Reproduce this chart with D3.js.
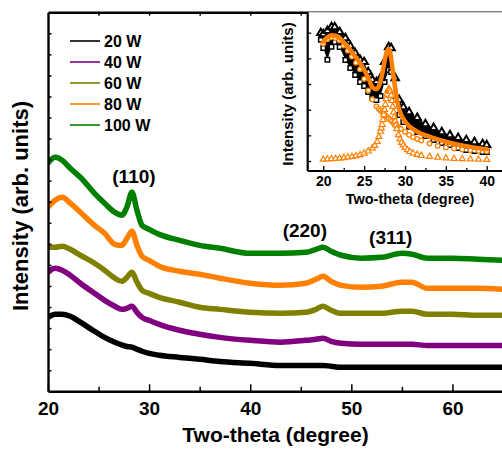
<!DOCTYPE html>
<html>
<head>
<meta charset="utf-8">
<script src="https://cdn.jsdelivr.net/npm/d3@7"></script>
<style>
html, body { margin: 0; padding: 0; background: #fff; }
svg { display: block; font-family: "Liberation Sans", Arial, sans-serif; font-weight: bold; }
</style>
</head>
<body>
<svg id="chart" width="502" height="450"></svg>
<script>
// --- main XRD patterns (arb. units, offset stacked) ---
const twoTheta = [20, 20.7, 21.4, 22.2, 23.2, 24.6, 25.6, 26.6, 27.3, 27.8, 28.3, 28.8, 29.3, 30, 31, 33, 35, 37, 40, 43, 45.5, 46.5, 47.2, 48, 49, 51, 53, 55, 56, 57.5, 60, 62.5, 65.3];
const w20 = [3.51, 3.66, 3.66, 3.56, 3.28, 2.85, 2.56, 2.33, 2.20, 2.13, 2.10, 2.00, 1.90, 1.80, 1.71, 1.61, 1.52, 1.42, 1.33, 1.23, 1.23, 1.23, 1.23, 1.19, 1.14, 1.14, 1.14, 1.14, 1.14, 1.14, 1.14, 1.14, 1.14];
const w40 = [5.65, 5.84, 5.75, 5.51, 5.13, 4.65, 4.32, 4.04, 3.89, 3.94, 4.04, 3.75, 3.51, 3.37, 3.18, 2.90, 2.71, 2.56, 2.42, 2.33, 2.42, 2.47, 2.52, 2.37, 2.28, 2.23, 2.23, 2.23, 2.23, 2.18, 2.18, 2.18, 2.18];
const w60 = [6.84, 6.84, 6.89, 6.74, 6.46, 6.08, 5.75, 5.37, 5.22, 5.41, 5.65, 5.18, 4.80, 4.65, 4.46, 4.23, 3.99, 3.89, 3.75, 3.70, 3.75, 3.89, 4.04, 3.85, 3.70, 3.70, 3.70, 3.80, 3.80, 3.66, 3.66, 3.61, 3.61];
const w80 = [8.74, 9.07, 9.21, 8.93, 8.50, 7.88, 7.50, 6.98, 6.93, 7.26, 7.60, 6.93, 6.41, 6.22, 5.94, 5.70, 5.56, 5.37, 5.13, 5.03, 5.13, 5.32, 5.46, 5.22, 5.03, 4.94, 4.99, 5.18, 5.18, 4.89, 4.89, 4.89, 4.84];
const w100 = [10.83, 11.11, 10.97, 10.59, 10.16, 9.40, 8.93, 8.50, 8.36, 8.74, 9.45, 8.59, 7.88, 7.69, 7.45, 7.17, 6.93, 6.79, 6.55, 6.55, 6.60, 6.74, 6.84, 6.65, 6.46, 6.32, 6.36, 6.55, 6.51, 6.32, 6.32, 6.27, 6.22];

const seriesNames = ["20 W", "40 W", "60 W", "80 W", "100 W"];
const seriesColors = ["#000000", "#800080", "#808000", "#ff8000", "#008000"];
const seriesValues = [w20, w40, w60, w80, w100];

const xTicksMajor = [20, 30, 40, 50, 60];
const xTicksMinor = [25, 35, 45, 55];

const peakLabels = ["(110)", "(220)", "(311)"];
const peakLabelPos = [[28.5, 9.9], [45.4, 7.35], [53.9, 7.0]];

// --- inset: measured data (two sets) and fit ---
const insetTheta = [19.7, 20, 20.5, 21, 21.4, 22, 22.7, 23.3, 23.9, 24.5, 25, 25.5, 26, 26.5, 27, 27.5, 28, 28.3, 28.8, 29.3, 29.8, 30.5, 31.5, 32.5, 33.5, 34.5, 35.5, 36.5, 37.5, 38.5, 39.5, 40];
const insetTri = [4.99, 4.95, 5.07, 5.22, 5.22, 5.03, 4.79, 4.48, 4.21, 3.94, 3.86, 3.47, 3.16, 3.08, 3.23, 3.86, 4.44, 4.40, 3.23, 2.38, 2.10, 1.91, 1.68, 1.44, 1.29, 1.13, 1.01, 0.90, 0.82, 0.74, 0.66, 0.62];
const insetSq = [4.72, 4.40, 3.95, 4.45, 4.64, 4.44, 3.94, 3.62, 3.35, 3.08, 2.92, 2.69, 2.46, 2.38, 2.53, 3.08, 3.55, 3.47, 2.38, 1.79, 1.52, 1.33, 1.13, 0.97, 0.82, 0.70, 0.62, 0.51, 0.43, 0.39, 0.35, 0.35];

const fitTheta = [20, 20.5, 21, 21.5, 22, 22.5, 23, 23.5, 24, 24.5, 25, 25.5, 26, 26.5, 26.8, 27, 27.2, 27.4, 27.6, 27.8, 28, 28.2, 28.4, 28.6, 28.8, 29, 29.2, 29.5, 30, 30.5, 31, 31.5, 32, 33, 34, 35, 36, 37, 38, 39, 40];
const fitTotal = [4.65, 4.82, 4.90, 4.88, 4.80, 4.62, 4.45, 4.24, 4.03, 3.82, 3.55, 3.25, 2.88, 2.80, 2.92, 3.10, 3.38, 3.72, 4.05, 4.28, 4.36, 4.20, 3.78, 3.28, 2.82, 2.42, 2.12, 1.82, 1.55, 1.36, 1.24, 1.14, 1.06, 0.95, 0.84, 0.75, 0.67, 0.61, 0.55, 0.50, 0.46];
const fitBackground = [4.58, 4.74, 4.82, 4.79, 4.70, 4.50, 4.30, 4.07, 3.83, 3.58, 3.20, 2.75, 2.40, 2.13, 2.03, 1.97, 1.91, 1.85, 1.78, 1.72, 1.66, 1.61, 1.55, 1.48, 1.42, 1.37, 1.32, 1.25, 1.14, 1.02, 0.93, 0.86, 0.80, 0.68, 0.59, 0.53, 0.49, 0.45, 0.42, 0.40, 0.38];

const peakTheta = [20, 20.5, 21, 21.5, 22, 22.5, 23, 23.5, 24, 24.5, 25, 25.5, 26, 26.3, 26.6, 26.8, 27.0, 27.1, 27.2, 27.3, 27.4, 27.5, 27.6, 27.7, 27.8, 27.9, 28.0, 28.1, 28.2, 28.3, 28.4, 28.5, 28.6, 28.7, 28.8, 28.9, 29.0, 29.2, 29.4, 29.6, 29.8, 30.0, 30.3, 30.6, 31, 31.5, 32, 33, 34, 35, 36, 37, 38, 39, 40];
const peakValues = [0.06, 0.07, 0.08, 0.09, 0.10, 0.12, 0.15, 0.17, 0.20, 0.24, 0.30, 0.38, 0.50, 0.60, 0.75, 0.95, 1.15, 1.28, 1.42, 1.60, 1.80, 2.00, 2.20, 2.42, 2.60, 2.74, 2.80, 2.78, 2.70, 2.55, 2.35, 2.12, 1.90, 1.72, 1.55, 1.40, 1.25, 1.02, 0.85, 0.72, 0.62, 0.52, 0.43, 0.36, 0.30, 0.25, 0.21, 0.17, 0.14, 0.11, 0.09, 0.08, 0.07, 0.06, 0.05];

const insetTicksMajor = [20, 25, 30, 35, 40];
const insetTicksMinor = [22.5, 27.5, 32.5, 37.5];
const insetYTicks = [0, 1, 2, 3, 4, 5];

// --- layout ---
const MAIN = { left: 48, right: 503, top: 12.2, bottom: 391.3 };
const INSET = { left: 307.7, right: 503, top: 12.2, bottom: 171 };
const ORANGE = "#ff8000";
const FONT = "Liberation Sans, Arial, sans-serif";

const svg = d3.select("#chart");

const x = d3.scaleLinear().domain([20, 65]).range([MAIN.left, MAIN.right]);
const y = d3.scaleLinear().domain([0, 18]).range([MAIN.bottom, MAIN.top]);

svg.append("clipPath").attr("id", "clipMain")
    .append("rect")
    .attr("x", MAIN.left).attr("y", MAIN.top)
    .attr("width", MAIN.right - MAIN.left).attr("height", MAIN.bottom - MAIN.top);

/** 主图曲线 */
function drawPatterns() {
    const line = d3.line()
        .x((d, i) => x(twoTheta[i]))
        .y((d) => y(d))
        .curve(d3.curveMonotoneX);

    svg.append("g")
        .attr("clip-path", "url(#clipMain)")
        .selectAll("path")
        .data(seriesValues)
        .enter()
        .append("path")
        .attr("d", line)
        .attr("fill", "none")
        .attr("stroke", (d, i) => seriesColors[i])
        .attr("stroke-width", 5.5)
        .attr("stroke-linejoin", "round");
}

/** 主图坐标轴 */
function drawMainAxes() {
    const styleAxis = (g, w) => {
        g.selectAll(".domain").attr("stroke-width", w);
        g.selectAll(".tick line").attr("stroke-width", 1.5);
    };

    const bottom = svg.append("g")
        .attr("transform", `translate(0,${MAIN.bottom})`)
        .call(d3.axisBottom(x).tickValues(xTicksMajor).tickSize(-7).tickSizeOuter(0).tickPadding(10));
    bottom.selectAll("text").attr("font-size", 19).attr("fill", "#000")
        .attr("font-family", FONT).attr("font-weight", "bold");
    styleAxis(bottom, 2.4);

    svg.append("g")
        .attr("transform", `translate(0,${MAIN.bottom})`)
        .call(d3.axisBottom(x).tickValues(xTicksMinor).tickSize(-4.5).tickFormat(""))
        .call((g) => g.select(".domain").remove())
        .call((g) => g.selectAll("line").attr("stroke-width", 1.5));

    const left = svg.append("g")
        .attr("transform", `translate(${MAIN.left},0)`)
        .call(d3.axisLeft(y).tickValues(d3.range(1, 18)).tickSize(-3.5).tickSizeOuter(0).tickFormat(""));
    styleAxis(left, 2.4);

    const top = svg.append("g")
        .attr("transform", `translate(0,${MAIN.top})`)
        .call(d3.axisTop(x).tickValues(d3.range(25, 65, 5)).tickSize(-3.5).tickSizeOuter(0).tickFormat(""));
    styleAxis(top, 2.4);

    svg.append("text")
        .attr("x", 275.5).attr("y", 442)
        .attr("text-anchor", "middle")
        .attr("font-size", 21)
        .text("Two-theta (degree)");

    svg.append("text")
        .attr("transform", "translate(21,206) rotate(-90)")
        .attr("text-anchor", "middle")
        .attr("dominant-baseline", "central")
        .attr("font-size", 21.5)
        .attr("textLength", 210)
        .attr("lengthAdjust", "spacingAndGlyphs")
        .text("Intensity (arb. units)");
}

/** 图例与晶面标注 */
function drawLegendAndLabels() {
    const legend = svg.append("g")
        .selectAll("g")
        .data(seriesNames)
        .enter()
        .append("g")
        .attr("transform", (d, i) => `translate(70,${41 + i * 21})`);

    legend.append("line")
        .attr("x1", 0).attr("x2", 30)
        .attr("stroke", (d, i) => seriesColors[i])
        .attr("stroke-width", 1.6);

    legend.append("text")
        .attr("x", 34).attr("y", 5.7)
        .attr("font-size", 16)
        .text((d) => d);

    svg.append("g")
        .selectAll("text")
        .data(peakLabels)
        .enter()
        .append("text")
        .attr("x", (d, i) => x(peakLabelPos[i][0]))
        .attr("y", (d, i) => y(peakLabelPos[i][1]))
        .attr("text-anchor", "middle")
        .attr("font-size", 19)
        .text((d) => d);
}

/** 插图 */
function drawInset() {
    const ix = d3.scaleLinear().domain([20, 40]).range([323.3, 486.7]);
    const iy = d3.scaleLinear().domain([0, 5]).range([161, 32.7]);

    svg.append("rect")
        .attr("x", INSET.left).attr("y", INSET.top)
        .attr("width", INSET.right - INSET.left).attr("height", INSET.bottom - INSET.top)
        .attr("fill", "#fff");

    svg.append("clipPath").attr("id", "clipInset")
        .append("rect")
        .attr("x", INSET.left).attr("y", INSET.top)
        .attr("width", INSET.right - INSET.left).attr("height", INSET.bottom - INSET.top);

    const g = svg.append("g").attr("clip-path", "url(#clipInset)");

    // scatter band of the measured points
    const band = d3.area()
        .x((d, i) => ix(insetTheta[i]))
        .y0((d, i) => iy(insetSq[i]))
        .y1((d) => iy(d))
        .curve(d3.curveLinear);
    g.append("path")
        .datum(insetTri)
        .attr("d", band)
        .attr("fill", "#000");

    const tri = d3.symbol().type(d3.symbolTriangle).size(24);
    const sq = d3.symbol().type(d3.symbolSquare).size(20);

    g.append("g").selectAll("path")
        .data(insetSq)
        .enter()
        .append("path")
        .attr("d", sq)
        .attr("transform", (d, i) => `translate(${ix(insetTheta[i])},${iy(d)})`)
        .attr("fill", "#fff")
        .attr("stroke", "#000")
        .attr("stroke-width", 1.5);

    g.append("g").selectAll("path")
        .data(insetTri)
        .enter()
        .append("path")
        .attr("d", tri)
        .attr("transform", (d, i) => `translate(${ix(insetTheta[i])},${iy(d)})`)
        .attr("fill", "#fff")
        .attr("stroke", "#000")
        .attr("stroke-width", 2);

    // fit components
    g.append("g").selectAll("circle")
        .data(fitBackground)
        .enter()
        .append("circle")
        .attr("cx", (d, i) => ix(fitTheta[i]))
        .attr("cy", (d) => iy(d))
        .attr("r", 2.3)
        .attr("fill", "#fff")
        .attr("stroke", ORANGE)
        .attr("stroke-width", 1.3);

    g.append("g").selectAll("path")
        .data(peakValues)
        .enter()
        .append("path")
        .attr("d", d3.symbol().type(d3.symbolTriangle).size(16))
        .attr("transform", (d, i) => `translate(${ix(peakTheta[i])},${iy(d)})`)
        .attr("fill", "#fff")
        .attr("stroke", ORANGE)
        .attr("stroke-width", 1.2);

    const fitLine = d3.line()
        .x((d, i) => ix(fitTheta[i]))
        .y((d) => iy(d))
        .curve(d3.curveMonotoneX);
    g.append("path")
        .datum(fitTotal)
        .attr("d", fitLine)
        .attr("fill", "none")
        .attr("stroke", ORANGE)
        .attr("stroke-width", 4.5)
        .attr("stroke-linecap", "round");

    // axes
    const bottom = svg.append("g")
        .attr("transform", `translate(0,${INSET.bottom})`)
        .call(d3.axisBottom(ix).tickValues(insetTicksMajor).tickSize(-5).tickSizeOuter(0).tickPadding(5.5));
    bottom.select(".domain").attr("d", `M${INSET.left},0H${INSET.right}`).attr("stroke-width", 2.2);
    bottom.selectAll(".tick line").attr("stroke-width", 1.3);
    bottom.selectAll("text").attr("font-size", 14).attr("fill", "#000")
        .attr("font-family", FONT).attr("font-weight", "bold");

    svg.append("g")
        .attr("transform", `translate(0,${INSET.bottom})`)
        .call(d3.axisBottom(ix).tickValues(insetTicksMinor).tickSize(-3).tickFormat(""))
        .call((s) => s.select(".domain").remove())
        .call((s) => s.selectAll("line").attr("stroke-width", 1.3));

    const left = svg.append("g")
        .attr("transform", `translate(${INSET.left},0)`)
        .call(d3.axisLeft(iy).tickValues(insetYTicks).tickSize(-3.5).tickFormat(""));
    left.select(".domain").attr("d", `M0,${INSET.top}V${INSET.bottom}`).attr("stroke-width", 2.2);
    left.selectAll(".tick line").attr("stroke-width", 1.3);

    svg.append("text")
        .attr("x", 410).attr("y", 203.5)
        .attr("text-anchor", "middle")
        .attr("font-size", 14.5)
        .text("Two-theta (degree)");

    svg.append("text")
        .attr("transform", "translate(287,94) rotate(-90)")
        .attr("text-anchor", "middle")
        .attr("dominant-baseline", "central")
        .attr("font-size", 15)
        .text("Intensity (arb. units)");
}

drawPatterns();
drawMainAxes();
drawLegendAndLabels();
drawInset();
</script>
</body>
</html>
